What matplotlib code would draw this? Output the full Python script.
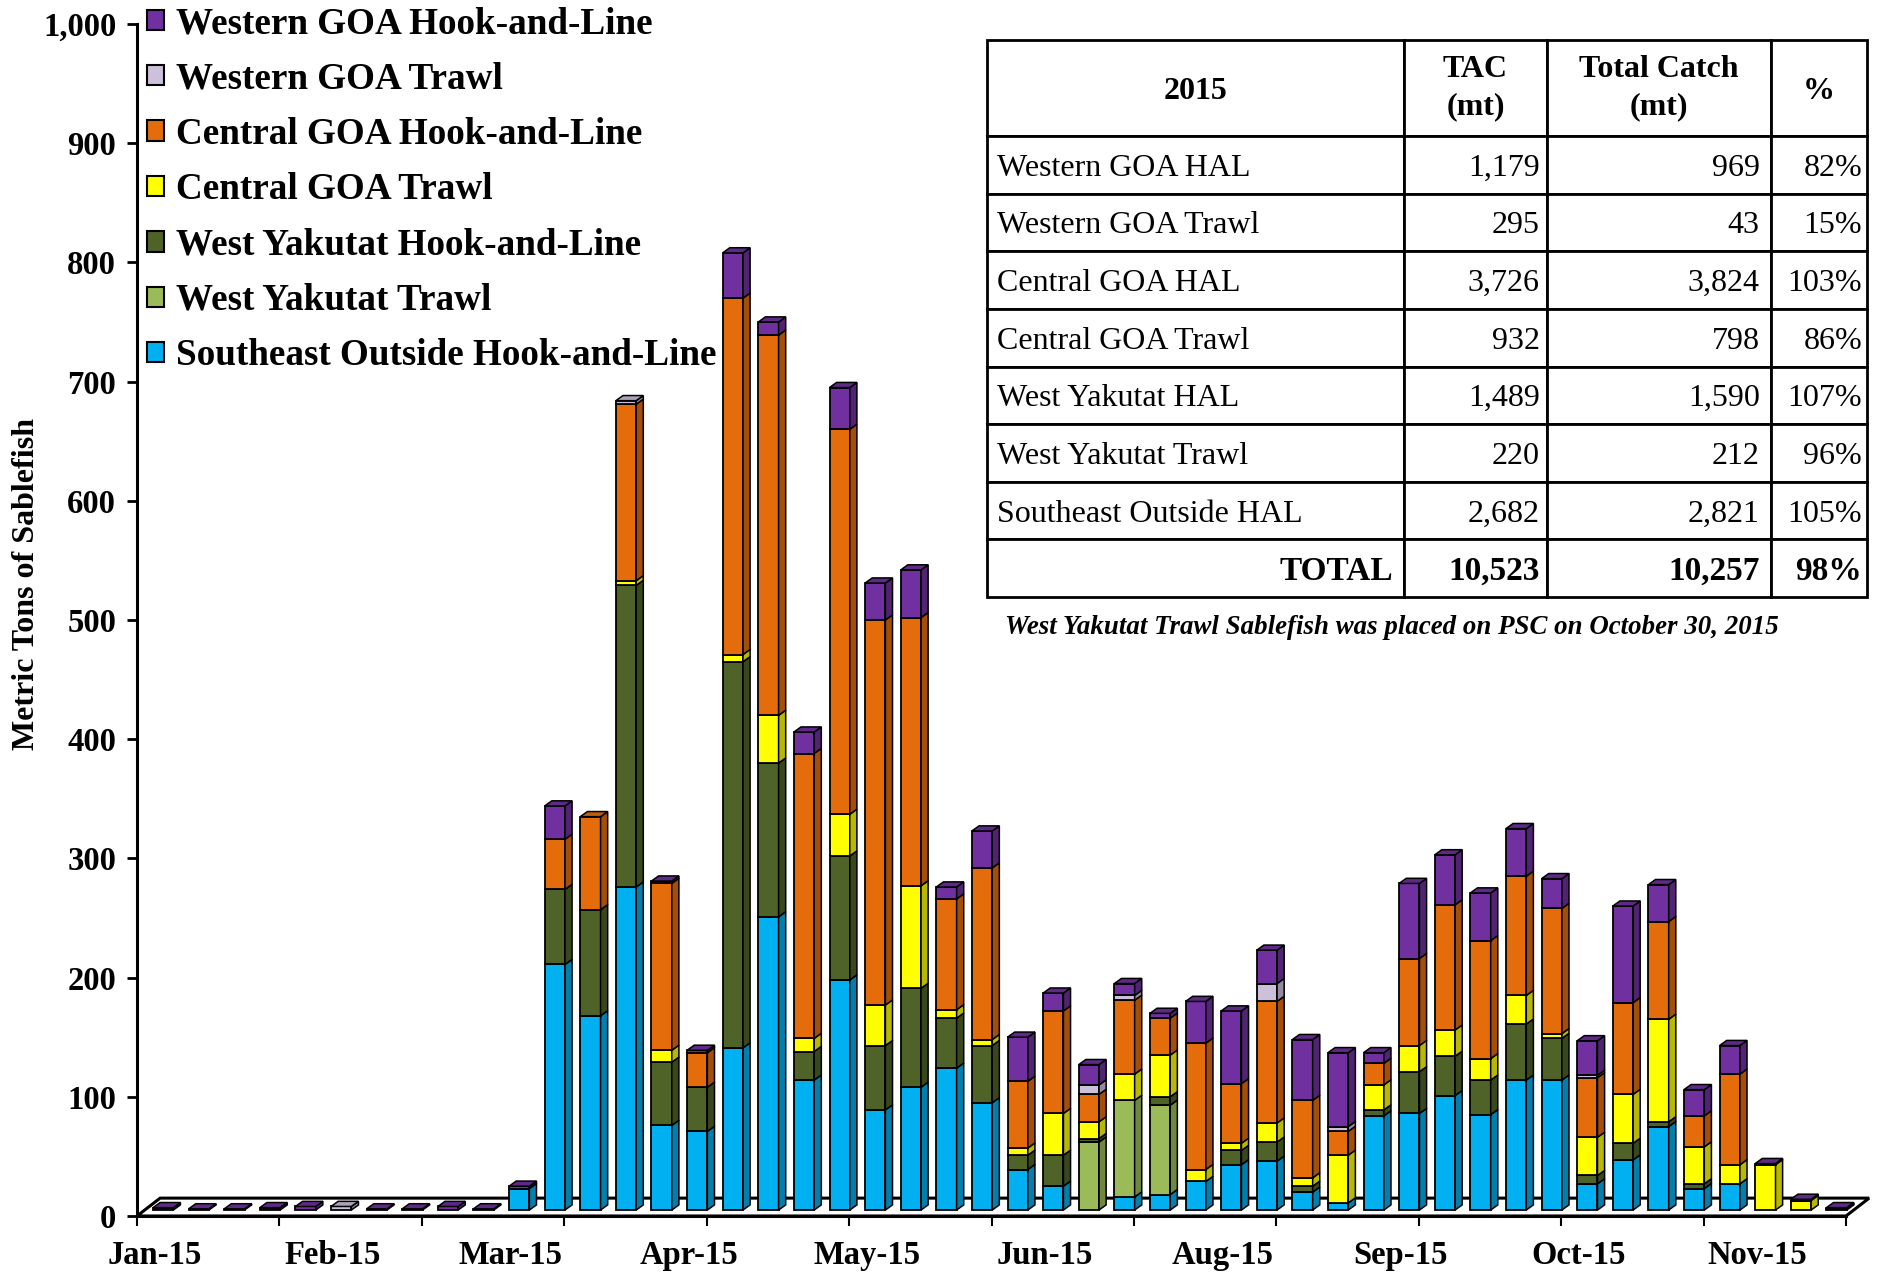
import numpy as np
import matplotlib
matplotlib.use("Agg")
import matplotlib.pyplot as plt
from matplotlib.patches import Polygon, Patch
from matplotlib.colors import to_rgb

# ---------------- data ----------------
n_weeks = 48
tick_labels = ["Jan-15", "Feb-15", "Mar-15", "Apr-15", "May-15",
               "Jun-15", "Aug-15", "Sep-15", "Oct-15", "Nov-15"]

series_names = ["Southeast Outside Hook-and-Line", "West Yakutat Trawl",
                "West Yakutat Hook-and-Line", "Central GOA Trawl",
                "Central GOA Hook-and-Line", "Western GOA Trawl",
                "Western GOA Hook-and-Line"]

se_outside_hal = [0, 0, 0, 0, 0, 0, 0, 0, 0, 0,
                  18, 206, 163, 271, 71, 66, 136, 246, 109, 193,
                  84, 103, 119, 90, 34, 20, 0, 11, 13, 24,
                  38, 41, 15, 6, 79, 81, 96, 80, 109, 109,
                  22, 42, 70, 18, 22, 0, 0, 0]
wy_trawl = [0, 0, 0, 0, 0, 0, 0, 0, 0, 0,
            0, 0, 0, 0, 0, 0, 0, 0, 0, 0,
            0, 0, 0, 0, 0, 0, 57, 81, 75, 0,
            0, 0, 0, 0, 0, 0, 0, 0, 0, 0,
            0, 0, 0, 0, 0, 0, 0, 0]
wy_hal = [0, 0, 0, 0, 0, 0, 0, 0, 0, 0,
          0, 63, 89, 253, 53, 37, 324, 129, 24, 104,
          54, 83, 42, 48, 12, 26, 3, 0, 7, 0,
          12, 16, 5, 0, 5, 35, 33, 29, 47, 35,
          7, 14, 4, 4, 0, 0, 0, 0]
cgoa_trawl = [0, 0, 0, 0, 0, 0, 0, 0, 0, 0,
              0, 0, 0, 4, 10, 0, 6, 40, 11, 35,
              34, 86, 7, 5, 6, 35, 14, 22, 35, 10,
              6, 16, 7, 40, 21, 22, 22, 18, 24, 4,
              32, 41, 86, 31, 16, 38, 8, 1]
cgoa_hal = [0, 0, 0, 0, 0, 0, 0, 0, 0, 0,
            0, 42, 78, 148, 140, 29, 299, 319, 239, 323,
            323, 225, 93, 144, 56, 86, 23, 62, 31, 106,
            50, 102, 65, 20, 18, 73, 105, 99, 100, 105,
            50, 77, 82, 26, 76, 0, 0, 0]
wgoa_trawl = [0, 0, 0, 0, 0, 3, 0, 0, 0, 0,
              0, 0, 0, 3, 0, 0, 0, 0, 0, 0,
              0, 0, 0, 0, 0, 0, 8, 4, 0, 0,
              0, 15, 0, 4, 0, 0, 0, 0, 0, 0,
              2, 0, 0, 0, 0, 0, 0, 0]
wgoa_hal = [2, 1, 1, 2, 3, 0, 1, 1, 3, 1,
            2, 28, 0, 0, 2, 2, 38, 11, 18, 35,
            31, 40, 10, 31, 37, 15, 17, 10, 4, 35,
            61, 28, 51, 62, 9, 63, 42, 40, 40, 25,
            29, 81, 31, 22, 24, 1, 1, 1]

series_colors = ["#00B0F0", "#9BBB59", "#4F6228", "#FFFF00",
                 "#E46C0A", "#CCC0DA", "#7030A0"]

table_rows = ["Western GOA HAL", "Western GOA Trawl", "Central GOA HAL",
              "Central GOA Trawl", "West Yakutat HAL", "West Yakutat Trawl",
              "Southeast Outside HAL", "TOTAL"]
table_tac = ["1,179", "295", "3,726", "932", "1,489", "220", "2,682", "10,523"]
table_catch = ["969", "43", "3,824", "798", "1,590", "212", "2,821", "10,257"]
table_pct = ["82%", "15%", "103%", "86%", "107%", "96%", "105%", "98%"]
table_header = ["2015", "TAC\n(mt)", "Total Catch\n(mt)", "%"]
note_text = "West Yakutat Trawl Sablefish was placed on PSC on October 30, 2015"

# ---------------- figure ----------------
SERIF = "Liberation Serif"
W_PX, H_PX = 1879, 1272
fig = plt.figure(figsize=(W_PX / 100, H_PX / 100), dpi=100)

ax_l, ax_r = 137, 1846
ax_top, ax_bot = 24, 1216
ax = fig.add_axes([ax_l / W_PX, (H_PX - ax_bot) / H_PX,
                   (ax_r - ax_l) / W_PX, (ax_bot - ax_top) / H_PX])
ax.set_xlim(0, n_weeks)
ax.set_ylim(0, 1000)

# 3-D look parameters (data units)
floor_dx, floor_dy = 0.65, 15.0
bar_w, bar_dx, bar_dy = 0.57, 0.20, 4.3
bar_off = 0.735      # front-face centre inside category
base = 5.0           # bars stand on the middle of the floor

# floor
floor = Polygon([(0, 0), (n_weeks, 0), (n_weeks + floor_dx, floor_dy),
                 (floor_dx, floor_dy)], closed=True, facecolor="white",
                edgecolor="black", lw=2.2, zorder=1, clip_on=False)
ax.add_patch(floor)


def shade(c, f):
    return tuple(np.clip(np.array(to_rgb(c)) * f, 0, 1))


all_series = [se_outside_hal, wy_trawl, wy_hal, cgoa_trawl, cgoa_hal,
              wgoa_trawl, wgoa_hal]
xc = np.arange(n_weeks) + bar_off
cum = np.full(n_weeks, base)
top_color = [None] * n_weeks
for vals, col in zip(all_series, series_colors):
    v = np.array(vals, dtype=float)
    m = v > 0
    ax.bar(xc[m], v[m], bottom=cum[m], width=bar_w, color=col,
           edgecolor="black", lw=1.3, zorder=3, clip_on=False)
    for i in np.where(m)[0]:
        xr = xc[i] + bar_w / 2
        b, t = cum[i], cum[i] + v[i]
        ax.add_patch(Polygon([(xr, b), (xr + bar_dx, b + bar_dy),
                              (xr + bar_dx, t + bar_dy), (xr, t)],
                             closed=True, facecolor=shade(col, 0.72),
                             edgecolor="black", lw=1.1, zorder=3,
                             clip_on=False))
        top_color[i] = col
    cum = cum + v

for i in range(n_weeks):
    if top_color[i] is None:
        continue
    xl = xc[i] - bar_w / 2
    xr = xc[i] + bar_w / 2
    t = cum[i]
    ax.add_patch(Polygon([(xl, t), (xl + bar_dx, t + bar_dy),
                          (xr + bar_dx, t + bar_dy), (xr, t)],
                         closed=True, facecolor=shade(top_color[i], 0.85),
                         edgecolor="black", lw=1.1, zorder=3, clip_on=False))

# axes styling
for s in ["top", "right"]:
    ax.spines[s].set_visible(False)
ax.spines["left"].set_linewidth(2.2)
ax.spines["bottom"].set_linewidth(2.2)
ax.spines["bottom"].set_zorder(2)

ax.set_yticks(np.arange(0, 1001, 100))
ax.set_yticklabels([f"{v:,}" for v in range(0, 1001, 100)])
ax.tick_params(axis="y", direction="out", length=7, width=2, pad=8)
ax.set_xticks(np.arange(0, n_weeks + 1, 4))
ax.set_xticklabels([])
ax.tick_params(axis="x", which="major", direction="out", length=7, width=1.5)
ax.set_xticks(np.arange(0, n_weeks, 5) + 0.5, minor=True)
ax.set_xticklabels(tick_labels, minor=True)
ax.tick_params(axis="x", which="minor", length=0, pad=17)
for lab in ax.get_yticklabels() + ax.get_xticklabels(minor=True):
    lab.set_fontfamily(SERIF)
    lab.set_fontweight("bold")
    lab.set_fontsize(23.5)

ax.set_ylabel("Metric Tons of Sablefish", fontfamily=SERIF,
              fontweight="bold", fontsize=23)
ax.yaxis.label.set_va("center")
ax.yaxis.set_label_coords(-0.0645, 0.53)

# legend (top series first)
handles = [Patch(facecolor=c, edgecolor="black", lw=1.5)
           for c in series_colors[::-1]]
fig.legend(handles, series_names[::-1], loc="upper left",
           bbox_to_anchor=(147 / W_PX, 1 - 6 / H_PX),
           bbox_transform=fig.transFigure, frameon=False,
           prop={"family": SERIF, "weight": "bold", "size": 26.7},
           handlelength=0.47, handleheight=0.47, handletextpad=0.3,
           labelspacing=0.55, borderpad=0, borderaxespad=0)

# table
t_l, t_r, t_t, t_b = 987, 1867, 40, 597
ax_t = fig.add_axes([t_l / W_PX, (H_PX - t_b) / H_PX,
                     (t_r - t_l) / W_PX, (t_b - t_t) / H_PX])
ax_t.axis("off")
cell_text = [[r, a, b, c] for r, a, b, c in
             zip(table_rows, table_tac, table_catch, table_pct)]
col_w = [417, 143, 224, 96]
tbl = ax_t.table(cellText=cell_text, colLabels=table_header,
                 colWidths=[w / sum(col_w) for w in col_w],
                 bbox=[0, 0, 1, 1], cellLoc="right")
tbl.auto_set_font_size(False)
n_rows = len(table_rows)
for (r, c), cell in tbl.get_celld().items():
    cell.set_linewidth(2.0)
    cell.set_height(80 if r == 0 else 48)
    txt = cell.get_text()
    txt.set_fontfamily(SERIF)
    txt.set_fontsize(23)
    cell.PAD = 0.025 if c == 0 else 0.05
    if r == 0:
        cell._loc = "center"
        txt.set_ha("center")
        txt.set_fontweight("bold")
        txt.set_linespacing(1.35)
        if c in (0, 3):
            txt.set_va("center_baseline")
    else:
        txt.set_va("center_baseline")
        if c == 0 and r < n_rows:
            cell._loc = "left"
            txt.set_ha("left")
    if r == n_rows:
        txt.set_fontweight("bold")
        txt.set_fontsize(24)

fig.text(1392 / W_PX, 1 - 627 / H_PX, note_text, ha="center", va="center",
         fontfamily=SERIF, fontweight="bold", fontstyle="italic", fontsize=19.4)

fig.savefig("out.png", dpi=100, facecolor="white")
